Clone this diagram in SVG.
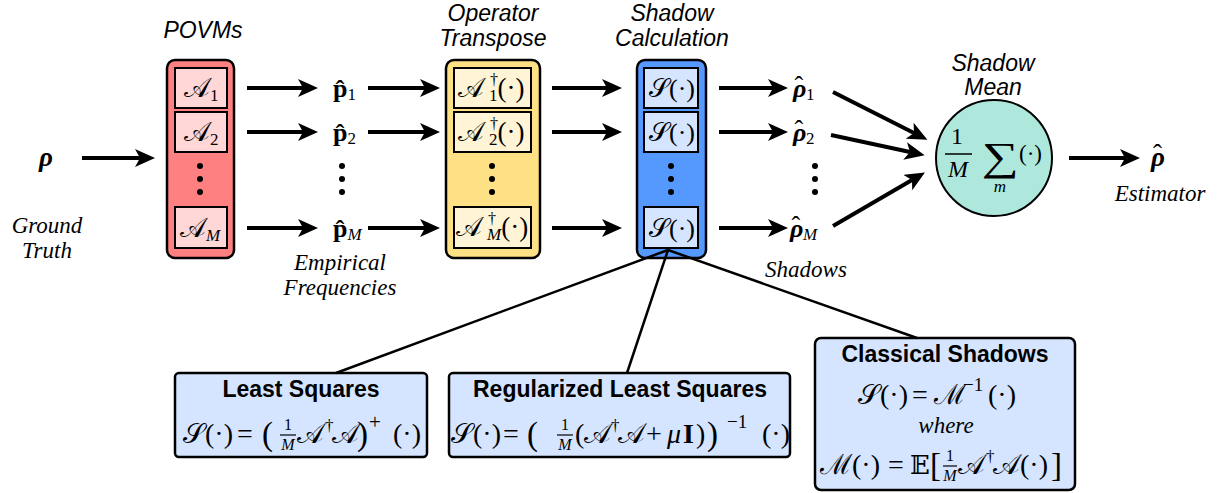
<svg xmlns="http://www.w3.org/2000/svg" width="1219" height="493" viewBox="0 0 1219 493">
<defs>
<marker id="ah" viewBox="0 0 20 18" markerUnits="userSpaceOnUse" markerWidth="20" markerHeight="18" refX="5" refY="9" orient="auto">
<path d="M0,0 L20,9 L0,18 L5,9 z" fill="#000"/>
</marker>
<style>
.ar{stroke:#000;stroke-width:4;fill:none;marker-end:url(#ah)}
.ln{stroke:#000;stroke-width:2.5;fill:none}
.lab{font-family:"Liberation Sans",Arial,sans-serif;font-style:italic;font-size:23px;fill:#000;text-anchor:middle}
.it{font-family:"Liberation Serif","Times New Roman",serif;font-style:italic;font-size:23px;fill:#000;text-anchor:middle}
.m{font-family:"Liberation Serif","DejaVu Serif",serif;fill:#000}
.ttl{font-family:"Liberation Sans",Arial,sans-serif;font-weight:bold;font-size:23px;fill:#000;text-anchor:middle}
.outer{stroke:#000;stroke-width:2.5}
.inner{stroke:#000;stroke-width:2}
.dot{fill:#000}
.fl{stroke:#000;stroke-width:1.2}
</style>
</defs>

<g id="labels">
<text class="lab" x="203" y="38">POVMs</text>
<text class="lab" x="493" y="21">Operator</text>
<text class="lab" x="493" y="46">Transpose</text>
<text class="lab" x="672" y="21">Shadow</text>
<text class="lab" x="672" y="46">Calculation</text>
<text class="lab" x="993" y="71">Shadow</text>
<text class="lab" x="993" y="95">Mean</text>
<text class="it" x="47" y="233">Ground</text>
<text class="it" x="47" y="258">Truth</text>
<text class="it" x="340" y="270">Empirical</text>
<text class="it" x="340" y="295">Frequencies</text>
<text class="it" x="806" y="277">Shadows</text>
<text class="it" x="1160" y="201">Estimator</text>
</g>

<g id="rho">
<text class="m" x="39" y="166" font-size="27" font-weight="bold" font-style="italic">ρ</text>
</g>

<g id="povms">
<rect class="outer" x="167" y="60" width="67" height="198" rx="8" fill="#ff8080"/>
<rect class="inner" x="175" y="68" width="52" height="40" fill="#ffd7d7"/>
<rect class="inner" x="175" y="112" width="52" height="40" fill="#ffd7d7"/>
<rect class="inner" x="175" y="207" width="52" height="41" fill="#ffd7d7"/>
<text class="m" x="184" y="97" font-size="27">𝒜<tspan font-size="17" dy="4">1</tspan></text>
<text class="m" x="184" y="141" font-size="27">𝒜<tspan font-size="17" dy="4">2</tspan></text>
<text class="m" x="180" y="237" font-size="27">𝒜<tspan font-size="17" font-style="italic" dy="4">M</tspan></text>
<circle class="dot" cx="200" cy="166" r="3"/><circle class="dot" cx="200" cy="179" r="3"/><circle class="dot" cx="200" cy="192" r="3"/>
</g>

<g id="freqs">
<text class="m" x="333" y="97" font-size="26" font-weight="bold">p&#x302;<tspan font-size="17" font-weight="normal" dy="3">1</tspan></text>
<text class="m" x="333" y="141" font-size="26" font-weight="bold">p&#x302;<tspan font-size="17" font-weight="normal" dy="3">2</tspan></text>
<text class="m" x="333" y="237" font-size="26" font-weight="bold">p&#x302;<tspan font-size="17" font-weight="normal" font-style="italic" dy="3">M</tspan></text>
<circle class="dot" cx="342" cy="166" r="3"/><circle class="dot" cx="342" cy="179" r="3"/><circle class="dot" cx="342" cy="192" r="3"/>
</g>

<g id="transpose">
<rect class="outer" x="446" y="60" width="94" height="198" rx="8" fill="#ffe185"/>
<rect class="inner" x="454" y="68" width="77" height="40" fill="#fff5d6"/>
<rect class="inner" x="454" y="112" width="77" height="40" fill="#fff5d6"/>
<rect class="inner" x="454" y="207" width="77" height="41" fill="#fff5d6"/>
<text class="m" x="458" y="97" font-size="27">𝒜<tspan font-size="16" dx="6" dy="-12">†</tspan><tspan font-size="17" dx="-9" dy="16">1</tspan><tspan dy="-4">(·)</tspan></text>
<text class="m" x="458" y="141" font-size="27">𝒜<tspan font-size="16" dx="6" dy="-12">†</tspan><tspan font-size="17" dx="-9" dy="16">2</tspan><tspan dy="-4">(·)</tspan></text>
<text class="m" x="456" y="236" font-size="27">𝒜<tspan font-size="16" dx="6" dy="-12">†</tspan><tspan font-size="17" font-style="italic" dx="-9" dy="16">M</tspan><tspan dy="-4">(·)</tspan></text>
<circle class="dot" cx="492" cy="166" r="3"/><circle class="dot" cx="492" cy="179" r="3"/><circle class="dot" cx="492" cy="192" r="3"/>
</g>

<g id="shadowcalc">
<rect class="outer" x="637" y="60" width="69" height="198" rx="8" fill="#5599ff"/>
<rect class="inner" x="644" y="68" width="54" height="40" fill="#d5e5ff"/>
<rect class="inner" x="644" y="112" width="54" height="40" fill="#d5e5ff"/>
<rect class="inner" x="644" y="207" width="54" height="41" fill="#d5e5ff"/>
<text class="m" x="649" y="97" font-size="26">𝒮(·)</text>
<text class="m" x="649" y="141" font-size="26">𝒮(·)</text>
<text class="m" x="649" y="237" font-size="26">𝒮(·)</text>
<circle class="dot" cx="671" cy="166" r="3"/><circle class="dot" cx="671" cy="179" r="3"/><circle class="dot" cx="671" cy="192" r="3"/>
</g>

<g id="shadows">
<text class="m" x="793" y="97" font-size="26" font-weight="bold" font-style="italic">ρ<tspan font-weight="normal" font-style="normal" dx="-12" dy="-3">ˆ</tspan><tspan font-size="17" font-weight="normal" font-style="normal" dx="3" dy="6">1</tspan></text>
<text class="m" x="793" y="141" font-size="26" font-weight="bold" font-style="italic">ρ<tspan font-weight="normal" font-style="normal" dx="-12" dy="-3">ˆ</tspan><tspan font-size="17" font-weight="normal" font-style="normal" dx="3" dy="6">2</tspan></text>
<text class="m" x="790" y="237" font-size="26" font-weight="bold" font-style="italic">ρ<tspan font-weight="normal" font-style="normal" dx="-12" dy="-3">ˆ</tspan><tspan font-size="17" font-weight="normal" dx="3" dy="6">M</tspan></text>
<circle class="dot" cx="815" cy="166" r="3"/><circle class="dot" cx="815" cy="179" r="3"/><circle class="dot" cx="815" cy="192" r="3"/>
</g>

<g id="mean">
<circle cx="994" cy="158" r="58" fill="#aee8dc" stroke="#000" stroke-width="2"/>
<text class="m" x="957" y="144" font-size="24" text-anchor="middle">1</text>
<line x1="945" y1="154" x2="972" y2="154" stroke="#000" stroke-width="1.5"/>
<text class="m" x="958" y="177" font-size="24" font-style="italic" text-anchor="middle">M</text>
<text class="m" transform="translate(1000,170) scale(1.3,1)" x="0" y="0" font-size="40" text-anchor="middle">∑</text>
<text class="m" x="1000" y="192" font-size="17" font-style="italic" text-anchor="middle">m</text>
<text class="m" x="1019" y="161" font-size="23">(·)</text>
</g>

<g id="estimator">
<text class="m" x="1151" y="166" font-size="27" font-weight="bold" font-style="italic">ρ<tspan font-weight="normal" font-style="normal" dx="-12" dy="-3">ˆ</tspan></text>
</g>

<g id="ls">
<rect class="outer" x="175" y="373" width="252" height="84" rx="4" fill="#d5e5ff"/>
<text class="ttl" x="301" y="397">Least Squares</text>
<text class="m" x="183" y="443" font-size="28">𝒮(·)</text>
<text class="m" x="237" y="443" font-size="28">=</text>
<text class="m" x="262" y="445" font-size="33">(</text>
<text class="m" x="288" y="430" font-size="16" text-anchor="middle">1</text>
<line class="fl" x1="280" y1="435" x2="296" y2="435"/>
<text class="m" x="288" y="450" font-size="16" font-style="italic" text-anchor="middle">M</text>
<text class="m" x="297" y="443" font-size="28">𝒜</text>
<text class="m" x="325" y="431" font-size="17">†</text>
<text class="m" x="332" y="443" font-size="28">𝒜</text>
<text class="m" x="357" y="445" font-size="33">)</text>
<text class="m" x="369" y="429" font-size="21">+</text>
<text class="m" x="393" y="443" font-size="28">(·)</text>
</g>

<g id="rls">
<rect class="outer" x="449" y="373" width="341" height="84" rx="4" fill="#d5e5ff"/>
<text class="ttl" x="620" y="397">Regularized Least Squares</text>
<text class="m" x="451" y="443" font-size="28">𝒮(·)</text>
<text class="m" x="503" y="443" font-size="28">=</text>
<text class="m" x="527" y="445" font-size="33">(</text>
<text class="m" x="565" y="430" font-size="16" text-anchor="middle">1</text>
<line class="fl" x1="557" y1="435" x2="573" y2="435"/>
<text class="m" x="565" y="450" font-size="16" font-style="italic" text-anchor="middle">M</text>
<text class="m" x="575" y="443" font-size="28">(</text>
<text class="m" x="584" y="443" font-size="28">𝒜</text>
<text class="m" x="611" y="431" font-size="17">†</text>
<text class="m" x="618" y="443" font-size="28">𝒜</text>
<text class="m" x="646" y="443" font-size="28">+</text>
<text class="m" x="667" y="443" font-size="28" font-style="italic">μ</text>
<text class="m" x="683" y="443" font-size="28" font-weight="bold">I</text>
<text class="m" x="696" y="443" font-size="28">)</text>
<text class="m" x="707" y="445" font-size="33">)</text>
<text class="m" x="727" y="428" font-size="19">−1</text>
<text class="m" x="762" y="443" font-size="28">(·)</text>
</g>

<g id="cs">
<rect class="outer" x="815" y="338" width="260" height="152" rx="6" fill="#d5e5ff"/>
<text class="ttl" x="945" y="362">Classical Shadows</text>
<text class="m" x="858" y="404" font-size="28">𝒮(·)</text>
<text class="m" x="912" y="404" font-size="28">=</text>
<text class="m" x="934" y="404" font-size="28">ℳ</text>
<text class="m" x="963" y="391" font-size="19">−1</text>
<text class="m" x="988" y="404" font-size="28">(·)</text>
<text class="it" x="946" y="433">where</text>
<text class="m" x="820" y="474" font-size="28">ℳ(·)</text>
<text class="m" x="888" y="474" font-size="28">=</text>
<text class="m" x="910" y="474" font-size="26">𝔼</text>
<text class="m" x="930" y="476" font-size="33">[</text>
<text class="m" x="950" y="461" font-size="16" text-anchor="middle">1</text>
<line class="fl" x1="943" y1="466" x2="957" y2="466"/>
<text class="m" x="950" y="481" font-size="16" font-style="italic" text-anchor="middle">M</text>
<text class="m" x="958" y="474" font-size="28">𝒜</text>
<text class="m" x="986" y="462" font-size="17">†</text>
<text class="m" x="993" y="474" font-size="28">𝒜</text>
<text class="m" x="1020" y="474" font-size="28">(·)</text>
<text class="m" x="1051" y="476" font-size="33">]</text>
</g>

<g id="connectors">
<line class="ar" x1="82" y1="158" x2="140" y2="158"/>
<line class="ar" x1="247" y1="88" x2="303" y2="88"/>
<line class="ar" x1="247" y1="132" x2="303" y2="132"/>
<line class="ar" x1="247" y1="228" x2="303" y2="228"/>
<line class="ar" x1="368" y1="88" x2="425" y2="88"/>
<line class="ar" x1="368" y1="132" x2="425" y2="132"/>
<line class="ar" x1="368" y1="228" x2="425" y2="228"/>
<line class="ar" x1="552" y1="88" x2="607" y2="88"/>
<line class="ar" x1="552" y1="132" x2="607" y2="132"/>
<line class="ar" x1="552" y1="228" x2="607" y2="228"/>
<line class="ar" x1="719" y1="88" x2="773" y2="88"/>
<line class="ar" x1="719" y1="132" x2="773" y2="132"/>
<line class="ar" x1="719" y1="228" x2="773" y2="228"/>
<line class="ar" x1="833" y1="92" x2="914" y2="133"/>
<line class="ar" x1="831" y1="135" x2="910" y2="152"/>
<line class="ar" x1="833" y1="226" x2="912" y2="180"/>
<line class="ar" x1="1069" y1="158" x2="1125" y2="158"/>
<line class="ln" x1="668" y1="250" x2="336" y2="373"/>
<line class="ln" x1="668" y1="250" x2="627" y2="373"/>
<line class="ln" x1="668" y1="250" x2="917" y2="338"/>
</g>
</svg>
